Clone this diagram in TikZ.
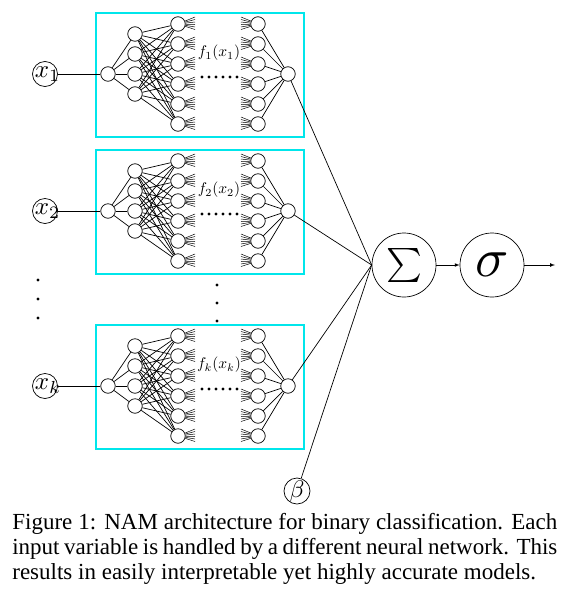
\documentclass[tikz,border=0pt]{standalone}
\usepackage{fontspec}
\newfontfamily\capfont{Liberation Serif}
\usepackage{amsmath, amssymb}
\usepackage{mathtools}
\usepackage{graphicx}
\usepackage{tikz}

\definecolor{boxcyan}{RGB}{0,230,235}
\tikzset{
  neuron/.style={circle, draw, minimum size=14.5pt, inner sep=0pt, fill=white},
  invar/.style={circle, draw, minimum size=25pt, inner sep=0pt},
  bignode/.style={circle, draw, minimum size=64pt, inner sep=0pt},
  netbox/.style={draw=boxcyan, line width=2pt},
}
\newcommand{\bigsym}[2]{\scalebox{#1}{$#2$}}

\begin{document}
\begin{tikzpicture}[x=1pt, y=-1pt, line width=0.7pt]
  \useasboundingbox (0,0) rectangle (574,600);
  \foreach \oy/\nm in {0/1, 137/2, 312/k} {
    \draw[netbox] (96,13+\oy) rectangle (304,137+\oy);
    \node[invar] (x\nm) at (45,74+\oy) {\bigsym{2.5}{x\mathrlap{_{\nm}}\kern2.4pt}};
    \node[neuron] (in\nm) at (108,74+\oy) {};
    \node[neuron] (out\nm) at (288,74+\oy) {};
    \foreach \i in {1,...,4}
      \node[neuron] (a\nm-\i) at (135,14+\oy+20*\i) {};
    \foreach \j in {1,...,6} {
      \node[neuron] (b\nm-\j) at (178,4+\oy+20*\j) {};
      \node[neuron] (c\nm-\j) at (258,4+\oy+20*\j) {};
      \foreach \d in {-7,-4.5,-2,0.5,3,5.5}
        \draw[line width=0.5pt] (b\nm-\j) -- (195,4+\oy+20*\j+\d);
      \foreach \d in {-7,-4.5,-2,0.5,3,5.5}
        \draw[line width=0.5pt] (241,4+\oy+20*\j+\d) -- (c\nm-\j);
      \draw (c\nm-\j) -- (out\nm);
    }
    \foreach \i in {1,...,4} {
      \draw (in\nm) -- (a\nm-\i);
      \foreach \j in {1,...,6}
        \draw (a\nm-\i) -- (b\nm-\j);
    }
    \draw (x\nm) -- (in\nm);
    \node (f\nm) at (219,53+\oy) {\bigsym{1.55}{f_{\nm}(x_{\nm})}};
    \foreach \k in {0,...,5}
      \fill (202+7*\k,77+\oy) circle (1.6);
  }
  \foreach \y in {280,299,318}
    \fill (38,\y) circle (1.7);
  \foreach \y in {285,303,321}
    \fill (217,\y) circle (1.7);

  \node[bignode] (sum) at (404,265) {\bigsym{3.4}{\textstyle\sum}};
  \node[bignode] (sig) at (492,265) {\bigsym{5.5}{\sigma}};
  \coordinate (end) at (555,265);
  \node[invar, minimum size=24pt] (beta) at (297,491) {\bigsym{2.4}{\beta}};

  \foreach \nm in {1,2,k}
    \draw (out\nm) -- (sum.west);
  \draw (beta) -- (sum.west);
  \draw[-latex] (sum) -- (sig);
  \draw[-latex] (sig) -- (end);

  \node[anchor=north west, text width=545pt, align=justify, inner sep=0pt,
        font=\capfont\fontsize{23}{25}\selectfont] (cap) at (12,513)
    {Figure 1: NAM architecture for binary classification. Each\linebreak input variable is handled by a different neural network. This\linebreak results in easily interpretable yet highly accurate models.};
\end{tikzpicture}
\end{document}
